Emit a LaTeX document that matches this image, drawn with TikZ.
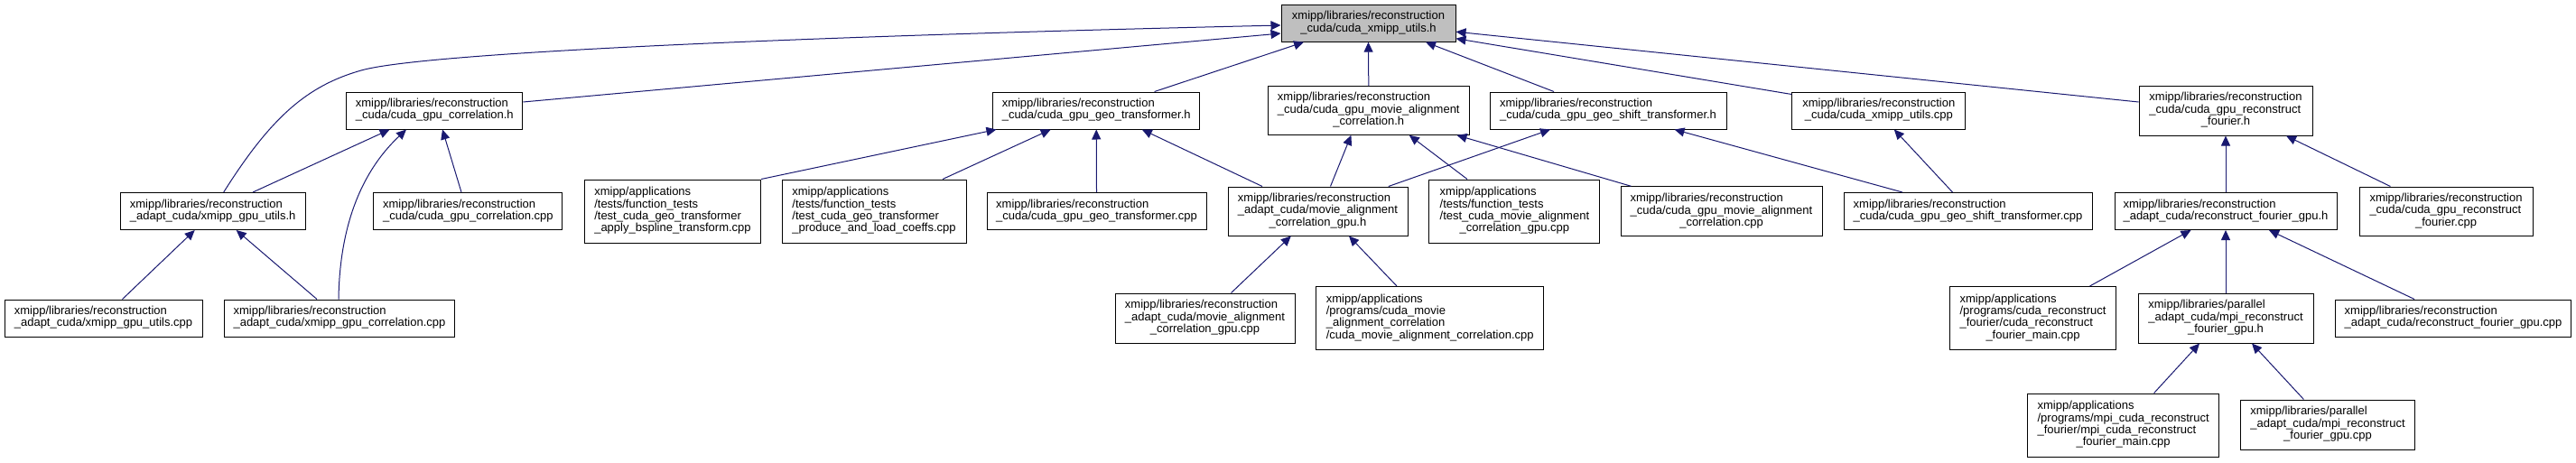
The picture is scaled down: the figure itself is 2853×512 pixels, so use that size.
\documentclass[tikz,border=0pt]{standalone}
\usepackage{fontspec}
\setmainfont{Liberation Sans}
\usepackage{xcolor}
\usetikzlibrary{arrows.meta}

\definecolor{edgeblue}{HTML}{191970}
\newcommand{\doxlbl}[2]{\begin{tabular}{@{}l@{}}#1\\\multicolumn{1}{@{}c@{}}{#2}\end{tabular}}

\begin{document}
\begin{tikzpicture}[x=1pt, y=-1pt, font=\fontsize{13}{13.3}\selectfont, >={Triangle[length=11pt,width=10pt]},
        file/.style={draw, line width=1pt, inner sep=0pt, minimum height=41pt},
        root/.style={file, fill=black!25},
        dep/.style={->, draw=edgeblue, line width=1pt}]
        \useasboundingbox (0,0) rectangle (2853,512);

        % root file
        \node[root, minimum width=193pt] (utilsh) at (1515.5,25.7) {\doxlbl{xmipp/libraries/reconstruction}{\_cuda/cuda\_xmipp\_utils.h}};

        % files that include it directly
        \node[file, minimum width=195pt] (corrh) at (481.3,122.5) {\doxlbl{xmipp/libraries/reconstruction}{\_cuda/cuda\_gpu\_correlation.h}};
        \node[file, minimum width=229.5pt] (geoh) at (1214.2,122.5) {\doxlbl{xmipp/libraries/reconstruction}{\_cuda/cuda\_gpu\_geo\_transformer.h}};
        \node[file, minimum width=222.4pt, minimum height=53.6pt] (movieh) at (1515.8,122.5) {\doxlbl{xmipp/libraries/reconstruction\\\_cuda/cuda\_gpu\_movie\_alignment}{\_correlation.h}};
        \node[file, minimum width=262pt] (shifth) at (1781,122.5) {\doxlbl{xmipp/libraries/reconstruction}{\_cuda/cuda\_gpu\_geo\_shift\_transformer.h}};
        \node[file, minimum width=192pt] (utilscpp) at (2080.8,122.5) {\doxlbl{xmipp/libraries/reconstruction}{\_cuda/cuda\_xmipp\_utils.cpp}};
        \node[file, minimum width=192pt, minimum height=55pt] (fourierh) at (2465,122.5) {\doxlbl{xmipp/libraries/reconstruction\\\_cuda/cuda\_gpu\_reconstruct}{\_fourier.h}};

        % third row
        \node[file, minimum width=205pt] (gpuutilsh) at (235.7,234) {\doxlbl{xmipp/libraries/reconstruction}{\_adapt\_cuda/xmipp\_gpu\_utils.h}};
        \node[file, minimum width=209pt] (corrcpp) at (518.4,234) {\doxlbl{xmipp/libraries/reconstruction}{\_cuda/cuda\_gpu\_correlation.cpp}};
        \node[file, minimum width=195pt, minimum height=70pt] (bsplinecpp) at (745,234) {\doxlbl{xmipp/applications\\/tests/function\_tests\\/test\_cuda\_geo\_transformer}{\_apply\_bspline\_transform.cpp}};
        \node[file, minimum width=204pt, minimum height=70pt] (coeffscpp) at (968,234) {\doxlbl{xmipp/applications\\/tests/function\_tests\\/test\_cuda\_geo\_transformer}{\_produce\_and\_load\_coeffs.cpp}};
        \node[file, minimum width=243pt] (geocpp) at (1214.5,234) {\doxlbl{xmipp/libraries/reconstruction}{\_cuda/cuda\_gpu\_geo\_transformer.cpp}};
        \node[file, minimum width=199pt, minimum height=54pt] (magpuh) at (1459.5,234) {\doxlbl{xmipp/libraries/reconstruction\\\_adapt\_cuda/movie\_alignment}{\_correlation\_gpu.h}};
        \node[file, minimum width=189pt, minimum height=70pt] (testmacpp) at (1677.4,234) {\doxlbl{xmipp/applications\\/tests/function\_tests\\/test\_cuda\_movie\_alignment}{\_correlation\_gpu.cpp}};
        \node[file, minimum width=223pt, minimum height=55pt] (moviecpp) at (1906.5,234.3) {\doxlbl{xmipp/libraries/reconstruction\\\_cuda/cuda\_gpu\_movie\_alignment}{\_correlation.cpp}};
        \node[file, minimum width=275pt] (shiftcpp) at (2179.5,234) {\doxlbl{xmipp/libraries/reconstruction}{\_cuda/cuda\_gpu\_geo\_shift\_transformer.cpp}};
        \node[file, minimum width=246pt] (rfgpuh) at (2465,234) {\doxlbl{xmipp/libraries/reconstruction}{\_adapt\_cuda/reconstruct\_fourier\_gpu.h}};
        \node[file, minimum width=192pt, minimum height=54pt] (fouriercpp) at (2709,234) {\doxlbl{xmipp/libraries/reconstruction\\\_cuda/cuda\_gpu\_reconstruct}{\_fourier.cpp}};

        % fourth row
        \node[file, minimum width=219pt] (gpuutilscpp) at (114.5,352.5) {\doxlbl{xmipp/libraries/reconstruction}{\_adapt\_cuda/xmipp\_gpu\_utils.cpp}};
        \node[file, minimum width=255pt] (gpucorrcpp) at (376,352.5) {\doxlbl{xmipp/libraries/reconstruction}{\_adapt\_cuda/xmipp\_gpu\_correlation.cpp}};
        \node[file, minimum width=199pt, minimum height=55pt] (magpucpp) at (1334.5,352.5) {\doxlbl{xmipp/libraries/reconstruction\\\_adapt\_cuda/movie\_alignment}{\_correlation\_gpu.cpp}};
        \node[file, minimum width=251.5pt, minimum height=70pt] (macprog) at (1583.7,352.5) {\doxlbl{xmipp/applications\\/programs/cuda\_movie\\\_alignment\_correlation}{/cuda\_movie\_alignment\_correlation.cpp}};
        \node[file, minimum width=184pt, minimum height=70pt] (cfmcpp) at (2251.5,352.5) {\doxlbl{xmipp/applications\\/programs/cuda\_reconstruct\\\_fourier/cuda\_reconstruct}{\_fourier\_main.cpp}};
        \node[file, minimum width=194pt, minimum height=55pt] (mpih) at (2465,352.5) {\doxlbl{xmipp/libraries/parallel\\\_adapt\_cuda/mpi\_reconstruct}{\_fourier\_gpu.h}};
        \node[file, minimum width=261.5pt] (rfgpucpp) at (2717,352.5) {\doxlbl{xmipp/libraries/reconstruction}{\_adapt\_cuda/reconstruct\_fourier\_gpu.cpp}};

        % bottom row
        \node[file, minimum width=212pt, minimum height=70pt] (mcfmcpp) at (2351.6,471) {\doxlbl{xmipp/applications\\/programs/mpi\_cuda\_reconstruct\\\_fourier/mpi\_cuda\_reconstruct}{\_fourier\_main.cpp}};
        \node[file, minimum width=193pt, minimum height=55pt] (mpicpp) at (2578,470.5) {\doxlbl{xmipp/libraries/parallel\\\_adapt\_cuda/mpi\_reconstruct}{\_fourier\_gpu.cpp}};

        % edges into the root
        \draw[dep] ([xshift=12pt]gpuutilsh.north) .. controls (300,130) and (340,95) .. (400,78) .. controls (470,58) and (900,40) .. ([yshift=-2.3pt]utilsh.west);
        \draw[dep] ([yshift=9.5pt]corrh.east) -- ([yshift=-11.3pt]utilsh.west);
        \draw[dep] ([xshift=64.4pt]geoh.north) -- ([xshift=-71.5pt]utilsh.south);
        \draw[dep] (movieh.north) -- (utilsh.south);
        \draw[dep] ([xshift=-60pt]shifth.north) -- ([xshift=63.5pt]utilsh.south);
        \draw[dep] ([yshift=-3pt]utilscpp.north west) -- ([yshift=-17pt]utilsh.east);
        \draw[dep] ([yshift=9.5pt]fourierh.west) -- ([yshift=-9.5pt]utilsh.east);

        % edges into the second row
        \draw[dep] ([xshift=44.3pt]gpuutilsh.north) -- ([xshift=-49.7pt]corrh.south);
        \draw[dep] ([xshift=-1pt]gpucorrcpp.north) .. controls (376,260) and (395,195) .. ([xshift=-31.3pt]corrh.south);
        \draw[dep] ([xshift=-7.4pt]corrcpp.north) -- ([xshift=8.7pt]corrh.south);
        \draw[dep] (bsplinecpp.north east) -- ([xshift=4.5pt]geoh.south west);
        \draw[dep] ([xshift=76pt]coeffscpp.north) -- ([xshift=-50.5pt]geoh.south);
        \draw[dep] (geocpp.north) -- (geoh.south);
        \draw[dep] ([xshift=-61.5pt]magpuh.north) -- ([xshift=50.6pt]geoh.south);
        \draw[dep] ([xshift=14pt]magpuh.north) -- ([xshift=-19.4pt]movieh.south);
        \draw[dep] ([xshift=-52.4pt]testmacpp.north) -- ([xshift=45pt]movieh.south);
        \draw[dep] ([xshift=-100pt]moviecpp.north) -- ([xshift=97.7pt]movieh.south);
        \draw[dep] ([xshift=78.3pt]magpuh.north) -- ([xshift=-64pt]shifth.south);
        \draw[dep] ([xshift=-72.5pt]shiftcpp.north) -- ([xshift=73.5pt]shifth.south);
        \draw[dep] ([xshift=-17pt]shiftcpp.north) -- ([xshift=17pt]utilscpp.south);
        \draw[dep] (rfgpuh.north) -- (fourierh.south);
        \draw[dep] ([xshift=-61.6pt]fouriercpp.north) -- ([xshift=67pt]fourierh.south);

        % edges into the third row
        \draw[dep] ([xshift=21pt]gpuutilscpp.north) -- ([xshift=-20pt]gpuutilsh.south);
        \draw[dep] ([xshift=-25pt]gpucorrcpp.north) -- ([xshift=26pt]gpuutilsh.south);
        \draw[dep] ([xshift=29pt]magpucpp.north) -- ([xshift=-29.7pt]magpuh.south);
        \draw[dep] ([xshift=-36.7pt]macprog.north) -- ([xshift=34.5pt]magpuh.south);
        \draw[dep] ([xshift=63pt]cfmcpp.north) -- ([xshift=-38.5pt]rfgpuh.south);
        \draw[dep] (mpih.north) -- (rfgpuh.south);
        \draw[dep] ([xshift=-43pt]rfgpucpp.north) -- ([xshift=48pt]rfgpuh.south);

        % edges into the fourth row
        \draw[dep] ([xshift=34pt]mcfmcpp.north) -- ([xshift=-29pt]mpih.south);
        \draw[dep] ([xshift=-26.6pt]mpicpp.north) -- ([xshift=29pt]mpih.south);
\end{tikzpicture}
\end{document}
